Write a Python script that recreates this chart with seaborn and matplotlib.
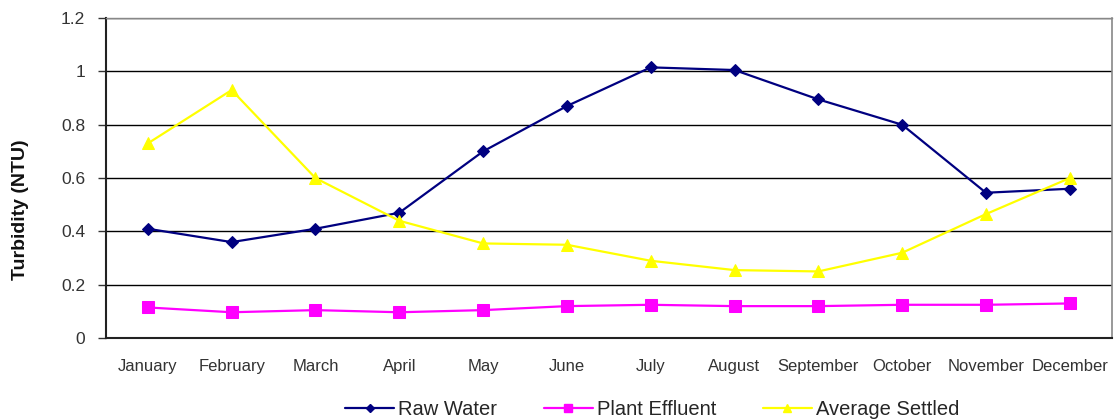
import numpy as np
import pandas as pd
import matplotlib
matplotlib.use("Agg")
import matplotlib.pyplot as plt
import seaborn as sns
from matplotlib.lines import Line2D

months = ["January", "February", "March", "April", "May", "June", "July",
          "August", "September", "October", "November", "December"]
raw_water = [0.41, 0.36, 0.41, 0.47, 0.70, 0.87, 1.015, 1.005, 0.895, 0.80, 0.545, 0.56]
plant_effluent = [0.115, 0.097, 0.105, 0.097, 0.105, 0.12, 0.125, 0.12, 0.12, 0.125, 0.125, 0.13]
average_settled = [0.73, 0.93, 0.60, 0.44, 0.355, 0.35, 0.29, 0.255, 0.25, 0.32, 0.465, 0.60]
series_names = ["Raw Water", "Plant Effluent", "Average Settled"]
colors = ["#000080", "#FF00FF", "#FFFF00"]
markers = ["D", "s", "^"]
marker_sizes = [6.5, 9, 9]

sns.set_theme(style="white")
plt.rcParams["font.family"] = ["Liberation Sans", "DejaVu Sans"]

rows = []
for name, vals in zip(series_names, [raw_water, plant_effluent, average_settled]):
    for i, v in enumerate(vals):
        rows.append({"month": i, "series": name, "turbidity": v})
df = pd.DataFrame(rows)

fig = plt.figure(figsize=(11.15, 4.19), dpi=100)
ax = fig.add_axes([0.095, 0.193, 0.902, 0.764])

for name, col, mk, ms in zip(series_names, colors, markers, marker_sizes):
    sub = df[df["series"] == name]
    sns.lineplot(data=sub, x="month", y="turbidity", ax=ax, color=col,
                 marker=mk, markersize=ms, markeredgecolor=col,
                 linewidth=1.6, legend=False, zorder=3)

ax.set_xlim(-0.5, 11.5)
ax.set_ylim(0, 1.2)
ax.set_yticks(np.arange(0, 1.21, 0.2))
ax.set_yticklabels(["0", "0.2", "0.4", "0.6", "0.8", "1", "1.2"], fontsize=12.5, color="#333333")
ax.set_xticks(range(12))
ax.set_xticklabels(months, fontsize=12, color="#333333")
ax.set_xticks(np.arange(-0.5, 12, 1), minor=True)
ax.tick_params(axis="x", which="major", length=0, pad=15)
ax.tick_params(axis="x", which="minor", length=5, width=1, color="#333333", direction="out")
ax.tick_params(axis="y", which="major", length=6, width=1, color="#333333", direction="out", pad=9, left=True)
ax.set_xlabel("")
ax.set_ylabel("Turbidity (NTU)", fontsize=14, fontweight="bold", color="#111111")
ax.yaxis.set_label_coords(-0.076, 0.40)

ax.yaxis.grid(True, color="#000000", linewidth=1.0)
ax.set_axisbelow(True)
for side in ["left", "bottom"]:
    ax.spines[side].set_color("#222222")
    ax.spines[side].set_linewidth(1.5)
ax.spines["top"].set_color("#888888")
ax.spines["top"].set_linewidth(1.0)
ax.spines["right"].set_color("#888888")
ax.spines["right"].set_linewidth(1.2)

handles = [Line2D([0], [0], color=c, marker=m, markersize=s * 0.7, markeredgecolor=c, linewidth=1.6)
           for c, m, s in zip(colors, markers, marker_sizes)]
fig.legend(handles, series_names, loc="center", bbox_to_anchor=(0.585, 0.022), ncol=3,
           frameon=False, fontsize=14.5, handlelength=2.45, handletextpad=0.2,
           columnspacing=2.3, borderpad=0.0)

fig.savefig("out.png", dpi=100)
